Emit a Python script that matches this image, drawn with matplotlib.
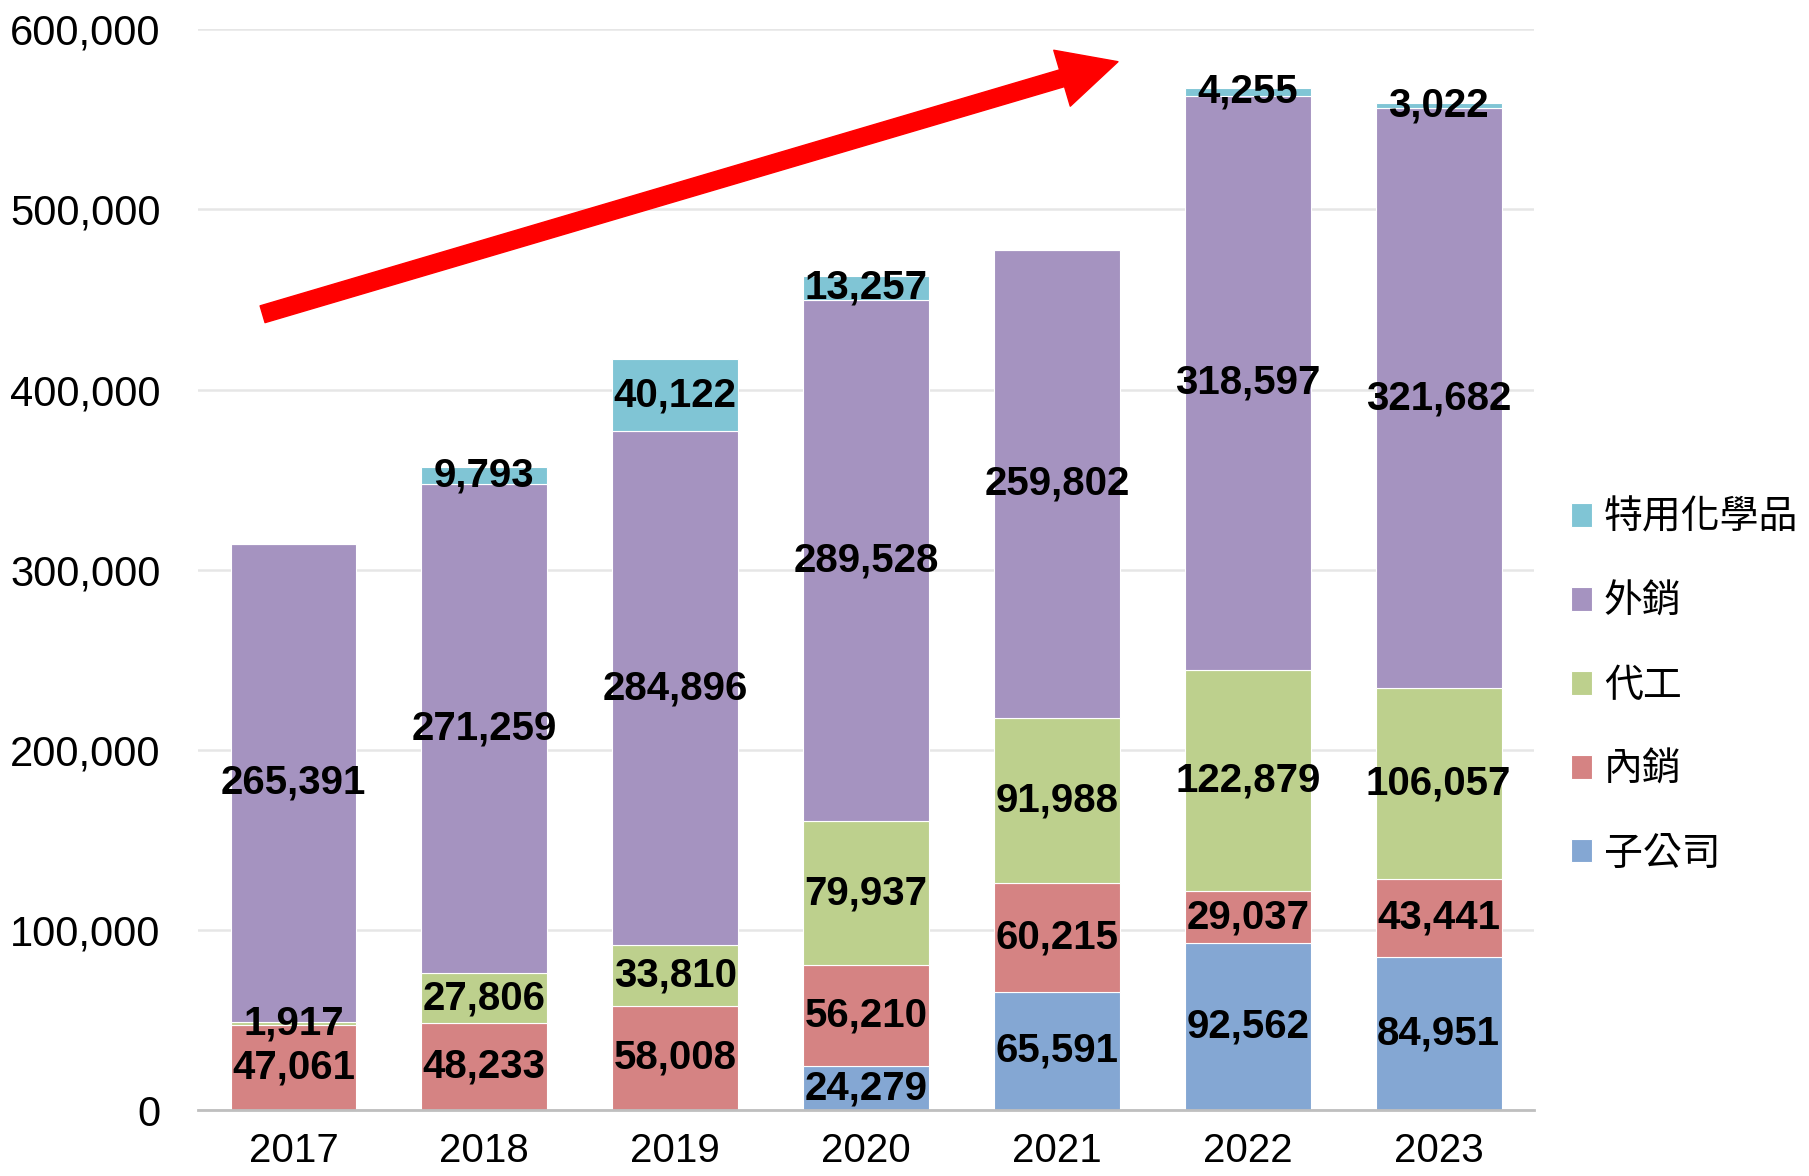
import matplotlib

matplotlib.use("Agg")
import matplotlib.pyplot as plt
from matplotlib.patches import FancyArrowPatch
from matplotlib.ticker import FuncFormatter

years = ["2017", "2018", "2019", "2020", "2021", "2022", "2023"]
subsidiary = [0, 0, 0, 24279, 65591, 92562, 84951]        # 子公司
domestic = [47061, 48233, 58008, 56210, 60215, 29037, 43441]  # 內銷
oem = [1917, 27806, 33810, 79937, 91988, 122879, 106057]      # 代工
export = [265391, 271259, 284896, 289528, 259802, 318597, 321682]  # 外銷
specialty = [0, 9793, 40122, 13257, 0, 4255, 3022]        # 特用化學品

series = [
    ("子公司", subsidiary, "#84A7D3"),
    ("內銷", domestic, "#D58383"),
    ("代工", oem, "#BDD08D"),
    ("外銷", export, "#A593C0"),
    ("特用化學品", specialty, "#80C5D5"),
]

label_font = ["Liberation Sans", "DejaVu Sans"]
tick_font = ["Liberation Sans", "DejaVu Sans"]

fig = plt.figure(figsize=(18.09, 11.76), dpi=100)
ax = fig.add_axes([0.1095, 0.0561, 0.7385, 0.919])

x = list(range(len(years)))
bottom = [0] * len(years)
handles = []
for name, vals, color in series:
    bars = ax.bar(x, vals, width=0.66, bottom=bottom, color=color,
                  edgecolor="white", linewidth=0.8, label=name, zorder=2)
    labels = [f"{v:,}" if v else "" for v in vals]
    ax.bar_label(bars, labels=labels, label_type="center", fontsize=29,
                 fontweight="bold", family=label_font, color="black", zorder=4)
    bottom = [b + v for b, v in zip(bottom, vals)]
    handles.append(bars)

ax.set_xlim(-0.5, 6.5)
ax.set_ylim(0, 600000)
ax.set_yticks(range(0, 600001, 100000))
ax.yaxis.set_major_formatter(FuncFormatter(lambda v, p: f"{int(v):,}"))
ax.set_xticks(x)
ax.set_xticklabels(years)
ax.grid(axis="y", color="#E6E6E6", linewidth=1.8, zorder=0)
ax.set_axisbelow(True)
for s in ["left", "right", "top"]:
    ax.spines[s].set_visible(False)
ax.spines["bottom"].set_color("#BFBFBF")
ax.spines["bottom"].set_linewidth(2)
ax.tick_params(axis="y", length=0, pad=27, labelsize=30)
ax.tick_params(axis="x", length=0, pad=16, labelsize=29)
for t in ax.get_xticklabels() + ax.get_yticklabels():
    t.set_family(tick_font)

# red trend arrow
arrow = FancyArrowPatch((-0.162, 441800), (4.32, 582000),
                        arrowstyle="simple,head_length=1.0,head_width=1.0,tail_width=0.3",
                        mutation_scale=42, color="#FF0000", shrinkA=0, shrinkB=0,
                        zorder=5, clip_on=False)
ax.add_patch(arrow)

fig.legend(handles[::-1], [s[0] for s in series][::-1], loc="center left",
           bbox_to_anchor=(0.849, 0.417), frameon=False,
           prop={"family": ["Noto Sans CJK TC", "DejaVu Sans"], "size": 28},
           handlelength=0.55, handleheight=0.55, handletextpad=0.3,
           labelspacing=1.13)

fig.savefig("out.png", dpi=100)
